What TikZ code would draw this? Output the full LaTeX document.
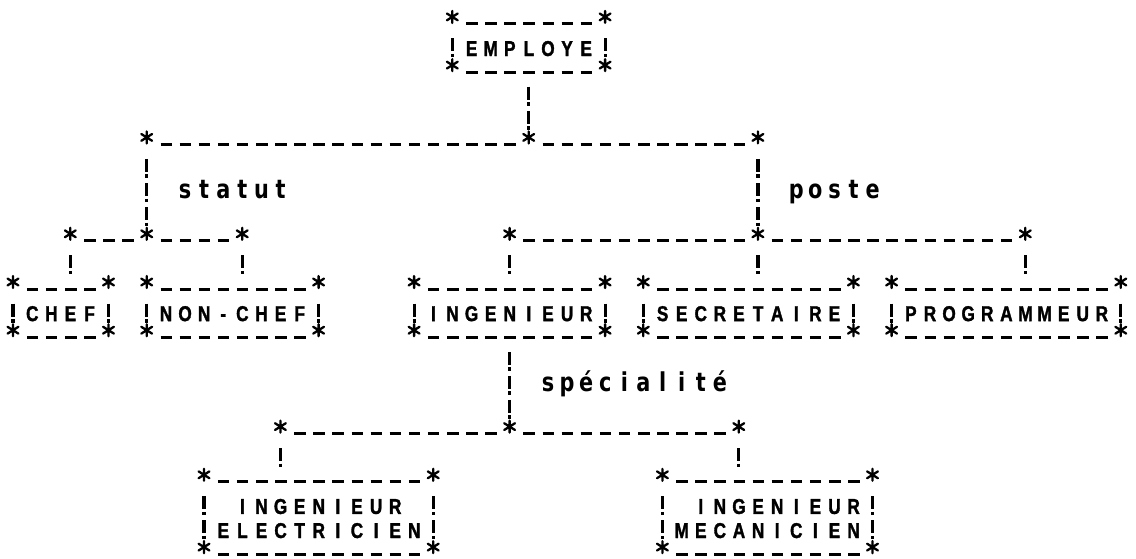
\documentclass[tikz,border=0pt]{standalone}
\usepackage{fontspec}
\newfontfamily\capfont[FakeStretch=0.8,FakeBold=1.5]{Liberation Sans}
\newfontfamily\labfont[FakeStretch=0.8]{DejaVu Sans}
\newcommand\colx[1]{13+19.1*(#1)}
\newcommand\rowy[1]{23.9+24.1*(#1)}
\def\spc#1{\spcA#1\relax}
\def\spcA#1{\ifx\relax#1\else\makebox[19.1pt]{#1}\expandafter\spcA\fi}
\tikzset{
  hconn/.style={line width=3pt, dash pattern=on 11.5pt off 7.6pt, dash phase=14.85pt,
    shorten <=9.55pt, shorten >=9.55pt},
  vconn/.style={line width=3.2pt, dash pattern=on 13pt off 2.5pt on 3.5pt off 5.1pt, dash phase=21.6pt,
    shorten <=12.05pt, shorten >=12.05pt},
  star/.pic={\draw[line width=2.3pt,line cap=round] (0,-6)--(0,6) (-5.4,-3.4)--(5.4,3.4) (-5.4,3.4)--(5.4,-3.4);},
  captext/.style={font=\capfont\bfseries\fontsize{21.5}{24.1}\selectfont, inner sep=0pt,
    anchor=base west, yshift=-8pt},
  labtext/.style={font=\labfont\bfseries\fontsize{26}{26}\selectfont, inner sep=0pt,
    anchor=base west, yshift=-6pt}
}
\newcommand\dotbox[5]{%
  \coordinate (#1-nw) at ({\colx{#2}},{\rowy{#4}});
  \coordinate (#1-ne) at ({\colx{#3}},{\rowy{#4}});
  \coordinate (#1-sw) at ({\colx{#2}},{\rowy{#5}});
  \coordinate (#1-se) at ({\colx{#3}},{\rowy{#5}});
  \draw[hconn] (#1-nw) -- (#1-ne);
  \draw[hconn] (#1-sw) -- (#1-se);
  \draw[vconn] (#1-nw) -- (#1-sw);
  \draw[vconn] (#1-ne) -- (#1-se);
  \foreach \k in {nw,ne,sw,se} \pic at ([yshift=7pt]#1-\k) {star};
}
\newcommand\pt[3]{\coordinate (#1) at ({\colx{#2}},{\rowy{#3}});}
\begin{document}
\begin{tikzpicture}[x=1pt,y=-1pt]
\useasboundingbox (0,0) rectangle (1136,558);
% boxes
\dotbox{employe}{23}{31}{0}{2}
\dotbox{chef}{0}{5}{11}{13}
\dotbox{nonchef}{7}{16}{11}{13}
\dotbox{ing}{21}{31}{11}{13}
\dotbox{secr}{33}{44}{11}{13}
\dotbox{prog}{46}{58}{11}{13}
\dotbox{ingel}{10}{22}{19}{22}
\dotbox{ingmec}{34}{45}{19}{22}
% box texts
\node[captext] (employe) at ({\colx{23.5}},{\rowy{1}}) {\spc{EMPLOYE}};
\node[captext] (chef) at ({\colx{0.5}},{\rowy{12}}) {\spc{CHEF}};
\node[captext] (nonchef) at ({\colx{7.5}},{\rowy{12}}) {\spc{NON-CHEF}};
\node[captext] (ing) at ({\colx{21.5}},{\rowy{12}}) {\spc{INGENIEUR}};
\node[captext] (secr) at ({\colx{33.5}},{\rowy{12}}) {\spc{SECRETAIRE}};
\node[captext] (prog) at ({\colx{46.5}},{\rowy{12}}) {\spc{PROGRAMMEUR}};
\node[captext] (ingel-a) at ({\colx{11.5}},{\rowy{20}}) {\spc{INGENIEUR}};
\node[captext] (ingel-b) at ({\colx{10.5}},{\rowy{21}}) {\spc{ELECTRICIEN}};
\node[captext] (ingmec-a) at ({\colx{35.5}},{\rowy{20}}) {\spc{INGENIEUR}};
\node[captext] (ingmec-b) at ({\colx{34.5}},{\rowy{21}}) {\spc{MECANICIEN}};
% labels
\node[labtext] (statut) at ({\colx{8.5}},{\rowy{7}}) {\spc{statut}};
\node[labtext] (poste) at ({\colx{40.5}},{\rowy{7}}) {\spc{poste}};
\node[labtext] (specialite) at ({\colx{27.5}},{\rowy{15}}) {\spc{spécialité}};
% connection points
\pt{employe-s}{27}{2}
\pt{j0}{27}{5} \pt{jl}{7}{5} \pt{jr}{39}{5}
\pt{js}{7}{9} \pt{a1}{3}{9} \pt{a2}{12}{9}
\pt{jp}{39}{9} \pt{b1}{26}{9} \pt{b2}{53}{9}
\pt{chef-n}{3}{11} \pt{nonchef-n}{12}{11}
\pt{ing-n}{26}{11} \pt{secr-n}{39}{11} \pt{prog-n}{53}{11}
\pt{ing-s}{26}{13} \pt{jsp}{26}{17} \pt{c1}{14}{17} \pt{c2}{38}{17}
\pt{ingel-n}{14}{19} \pt{ingmec-n}{38}{19}
% connectors
\draw[vconn] (employe-s) -- (j0);
\draw[hconn] (jl) -- (j0);
\draw[hconn] (j0) -- (jr);
\draw[vconn] (jl) -- (js);
\draw[hconn] (a1) -- (js);
\draw[hconn] (js) -- (a2);
\draw[vconn] (a1) -- (chef-n);
\draw[vconn] (a2) -- (nonchef-n);
\draw[vconn] (jr) -- (jp);
\draw[hconn] (b1) -- (jp);
\draw[hconn] (jp) -- (b2);
\draw[vconn] (b1) -- (ing-n);
\draw[vconn] (jp) -- (secr-n);
\draw[vconn] (b2) -- (prog-n);
\draw[vconn] (ing-s) -- (jsp);
\draw[hconn] (c1) -- (jsp);
\draw[hconn] (jsp) -- (c2);
\draw[vconn] (c1) -- (ingel-n);
\draw[vconn] (c2) -- (ingmec-n);
\foreach \s in {j0,jl,jr,js,a1,a2,jp,b1,b2,jsp,c1,c2} \pic at ([yshift=7pt]\s) {star};
\end{tikzpicture}
\end{document}
